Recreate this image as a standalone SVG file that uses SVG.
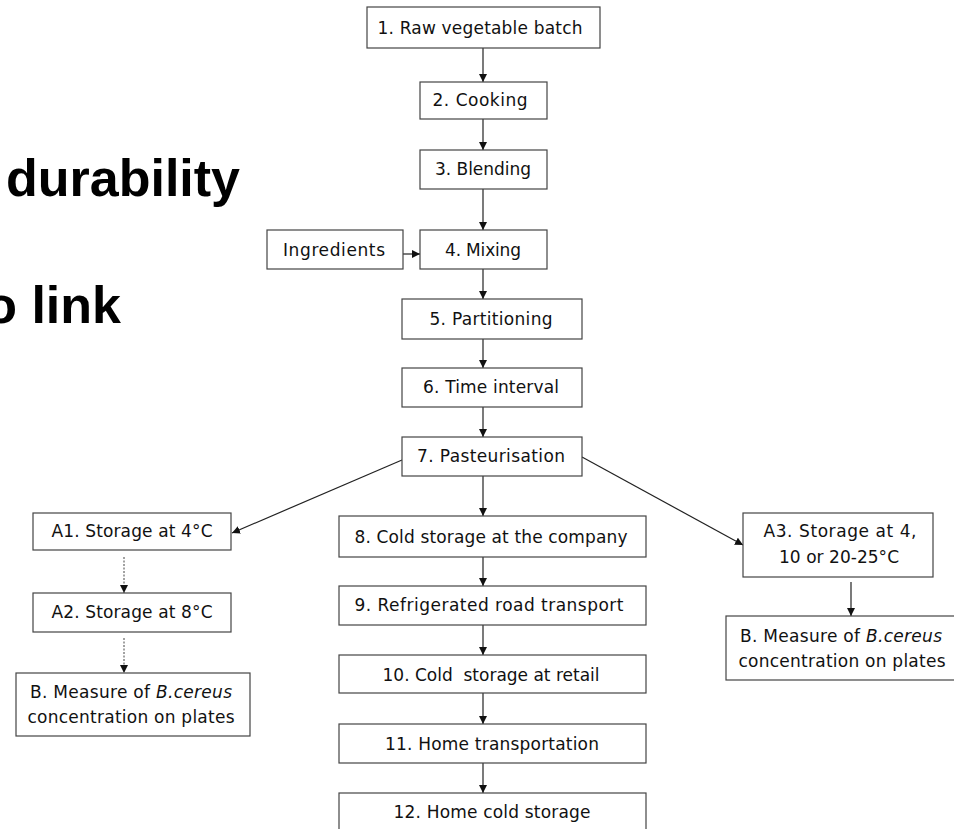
<svg xmlns="http://www.w3.org/2000/svg" width="954" height="829" viewBox="0 0 954 829">
<style>
.bg{fill:#fff}
.box{fill:#fff;stroke:#444;stroke-width:1.2}
.t{font-family:"DejaVu Sans",Verdana,sans-serif;font-size:17px;fill:#111;text-anchor:middle}
.title{font-family:"Liberation Sans",Arial,sans-serif;font-weight:bold;font-size:52px;fill:#000}
.c{stroke:#222;stroke-width:1.2;fill:none;marker-end:url(#ah)}
.d{stroke:#444;stroke-width:1;stroke-dasharray:2 1.5;fill:none;marker-end:url(#ah)}
</style>
<defs>
<marker id="ah" viewBox="0 0 10 10" refX="10" refY="5" markerWidth="8" markerHeight="8" markerUnits="userSpaceOnUse" orient="auto">
<path d="M0,0 L10,5 L0,10 z" fill="#111"/>
</marker>
</defs>
<rect class="bg" x="0" y="0" width="954" height="829"/>
<text class="title" x="6" y="196">durability</text>
<text class="title" x="121" y="323" text-anchor="end">o link</text>

<g id="connectors">
<line class="c" x1="483" y1="48" x2="483" y2="82"/>
<line class="c" x1="483" y1="119" x2="483" y2="150"/>
<line class="c" x1="483" y1="189" x2="483" y2="230"/>
<line class="c" x1="403" y1="254" x2="420" y2="254"/>
<line class="c" x1="483" y1="269" x2="483" y2="299"/>
<line class="c" x1="483" y1="339" x2="483" y2="368"/>
<line class="c" x1="483" y1="407" x2="483" y2="437"/>
<line class="c" x1="483" y1="476" x2="483" y2="516"/>
<line class="c" x1="402" y1="460" x2="232" y2="533"/>
<line class="c" x1="582" y1="457" x2="743" y2="545"/>
<line class="d" x1="124" y1="557" x2="124" y2="593"/>
<line class="d" x1="124" y1="638" x2="124" y2="673"/>
<line class="c" x1="483" y1="557" x2="483" y2="586"/>
<line class="c" x1="483" y1="625" x2="483" y2="655"/>
<line class="c" x1="483" y1="693" x2="483" y2="724"/>
<line class="c" x1="483" y1="763" x2="483" y2="793"/>
<line class="c" x1="851" y1="582" x2="851" y2="616"/>
</g>

<g id="n1"><rect class="box" x="367" y="7" width="233" height="41"/><text class="t" x="480" y="34" textLength="205">1. Raw vegetable batch</text></g>
<g id="n2"><rect class="box" x="420" y="82" width="127" height="37"/><text class="t" x="480" y="106" textLength="95">2. Cooking</text></g>
<g id="n3"><rect class="box" x="420" y="150" width="127" height="39"/><text class="t" x="483" y="175" textLength="96">3. Blending</text></g>
<g id="ing"><rect class="box" x="267" y="230" width="136" height="39"/><text class="t" x="334" y="256" textLength="102">Ingredients</text></g>
<g id="n4"><rect class="box" x="420" y="230" width="127" height="39"/><text class="t" x="483" y="256" textLength="76">4. Mixing</text></g>
<g id="n5"><rect class="box" x="402" y="299" width="180" height="40"/><text class="t" x="491" y="325" textLength="123">5. Partitioning</text></g>
<g id="n6"><rect class="box" x="402" y="368" width="180" height="39"/><text class="t" x="491" y="393" textLength="136">6. Time interval</text></g>
<g id="n7"><rect class="box" x="402" y="437" width="180" height="39"/><text class="t" x="491" y="462" textLength="148">7. Pasteurisation</text></g>

<g id="a1"><rect class="box" x="33" y="513" width="198" height="37"/><text class="t" x="132" y="537" textLength="161">A1. Storage at 4°C</text></g>
<g id="a2"><rect class="box" x="33" y="593" width="198" height="39"/><text class="t" x="132" y="618" textLength="161">A2. Storage at 8°C</text></g>
<g id="bl"><rect class="box" x="16" y="673" width="234" height="63"/>
<text class="t" x="131" y="698" textLength="202">B. Measure of <tspan font-style="italic">B.cereus</tspan></text>
<text class="t" x="131" y="723" textLength="207">concentration on plates</text></g>

<g id="n8"><rect class="box" x="339" y="516" width="307" height="41"/><text class="t" x="491" y="543" textLength="273">8. Cold storage at the company</text></g>
<g id="n9"><rect class="box" x="339" y="586" width="307" height="39"/><text class="t" x="489" y="611" textLength="269">9. Refrigerated road transport</text></g>
<g id="n10"><rect class="box" x="339" y="655" width="307" height="38"/><text class="t" x="491" y="681" textLength="217" xml:space="preserve">10. Cold  storage at retail</text></g>
<g id="n11"><rect class="box" x="339" y="724" width="307" height="39"/><text class="t" x="492" y="750" textLength="214">11. Home transportation</text></g>
<g id="n12"><rect class="box" x="339" y="793" width="307" height="45"/><text class="t" x="492" y="818" textLength="197">12. Home cold storage</text></g>

<g id="a3"><rect class="box" x="743" y="513" width="190" height="64"/>
<text class="t" x="840" y="537" textLength="153">A3. Storage at 4,</text>
<text class="t" x="839" y="563" textLength="120">10 or 20-25°C</text></g>
<g id="br"><rect class="box" x="726" y="616" width="234" height="64"/>
<text class="t" x="841" y="642" textLength="202">B. Measure of <tspan font-style="italic">B.cereus</tspan></text>
<text class="t" x="842" y="667" textLength="207">concentration on plates</text></g>
</svg>
